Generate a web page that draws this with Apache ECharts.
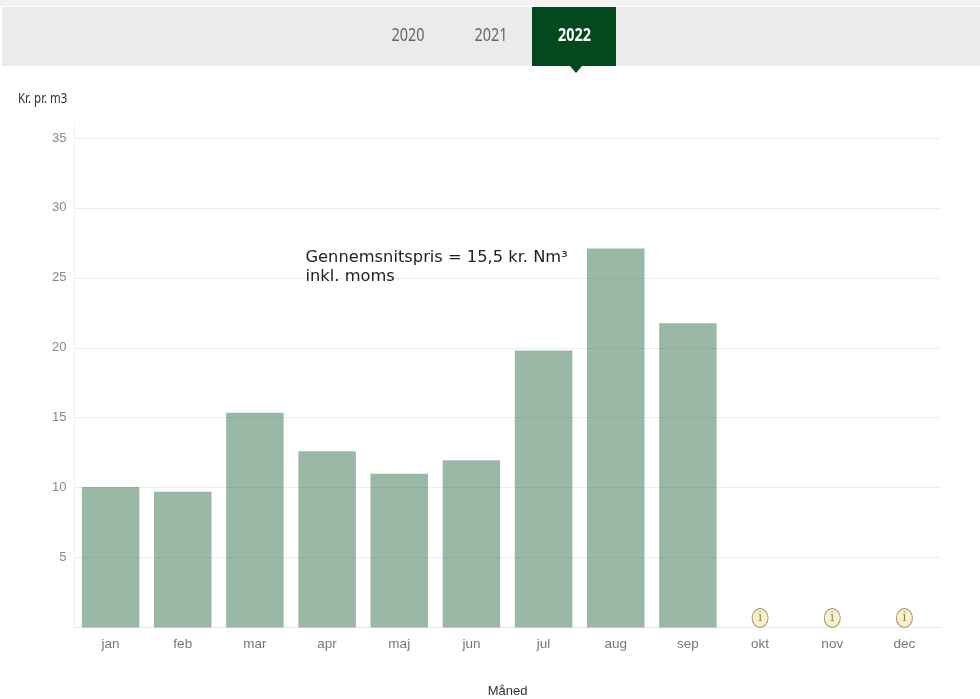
<!DOCTYPE html>
<html><head><meta charset="utf-8">
<style>html,body{margin:0;padding:0;background:#fff}#c{width:980px;height:699px}</style>
<script src="https://cdn.jsdelivr.net/npm/echarts@6/dist/echarts.min.js"></script>
</head><body><div id="c"></div>
<script>
const months = ['jan','feb','mar','apr','maj','jun','jul','aug','sep','okt','nov','dec'];
const prices = [10.05,9.7,15.35,12.6,11.0,11.95,19.8,27.1,21.75,null,null,null];
const infoMonths = ['okt','nov','dec'];
const infoLevel = [0.68,0.68,0.68];
const years = ['2020','2021','2022'];
const narrow = '"Liberation Sans",sans-serif';
const chart = echarts.init(document.getElementById('c'),null,{renderer:'canvas'});
chart.setOption({
  animation:false,
  backgroundColor:'#fff',
  grid:{left:74.5,right:39.5,top:124,bottom:71.5,containLabel:false,outerBoundsMode:'none'},
  xAxis:{type:'category',data:months,
    name:'Måned',nameLocation:'middle',nameGap:57,
    nameTextStyle:{fontFamily:narrow,fontSize:13,color:'#333'},
    axisLine:{show:true,lineStyle:{color:'#e8e8e8',width:1}},
    axisTick:{show:false},
    axisLabel:{fontFamily:narrow,fontSize:13.5,color:'#777',margin:10}},
  yAxis:{type:'value',min:0,max:36,interval:5,
    axisLine:{show:true,lineStyle:{color:'#f0f0f0',width:1}},
    axisTick:{show:false},
    splitLine:{show:true,showMaxLine:false,lineStyle:{color:'#ececec',width:1}},
    axisLabel:{fontFamily:narrow,fontSize:13,color:'#888',margin:8,showMaxLabel:false,
      formatter:v=>v===0?'':String(v)}},
  series:[
    {type:'bar',data:prices,barWidth:57.5,itemStyle:{color:'rgba(64,121,87,0.53)'},silent:true},
    {type:'scatter',data:infoMonths.map((m,i)=>[m,infoLevel[i]]),symbol:'circle',symbolSize:[16,19],
      itemStyle:{color:'#fdf0c8',borderColor:'#99917a',borderWidth:1,opacity:1},
      label:{show:true,position:'inside',formatter:'i',fontFamily:'"DejaVu Serif",serif',fontSize:12,color:'#8a8268'},silent:true}
  ],
  graphic:[
    {type:'rect',z:-1,shape:{x:0,y:0,width:980,height:6},style:{fill:'#f4f3f1'}},
    {type:'rect',z:-1,shape:{x:2,y:7,width:978,height:59},style:{fill:'#ebebeb'}},
    {type:'rect',z:1,shape:{x:532,y:7,width:84,height:59},style:{fill:'#03491d'}},
    {type:'polygon',z:1,shape:{points:[[570,66],[582,66],[576,73]]},style:{fill:'#03491d'}},
    {type:'text',z:2,x:408,y:35.5,scaleX:0.8,style:{text:years[0],fontFamily:'"Noto Sans",sans-serif',fontSize:18,fill:'#666',align:'center',verticalAlign:'middle'}},
    {type:'text',z:2,x:491,y:35.5,scaleX:0.8,style:{text:years[1],fontFamily:'"Noto Sans",sans-serif',fontSize:18,fill:'#666',align:'center',verticalAlign:'middle'}},
    {type:'text',z:2,x:574.5,y:35.5,scaleX:0.8,style:{text:years[2],fontFamily:'"Noto Sans",sans-serif',fontSize:18,fontWeight:'bold',fill:'#fff',align:'center',verticalAlign:'middle'}},
    {type:'text',z:2,x:18,y:99,scaleX:0.82,style:{text:'Kr. pr. m3',fontFamily:'"Noto Sans",sans-serif',fontSize:14,fill:'#333',align:'left',verticalAlign:'middle'}},
    {type:'text',z:3,x:305.5,y:248.5,scaleX:1.05,style:{text:'Gennemsnitspris = 15,5 kr. Nm³\ninkl. moms',fontFamily:'"DejaVu Sans",sans-serif',fontSize:15.5,lineHeight:19,fill:'#222',align:'left',verticalAlign:'top'}}
  ]
});
</script></body></html>
